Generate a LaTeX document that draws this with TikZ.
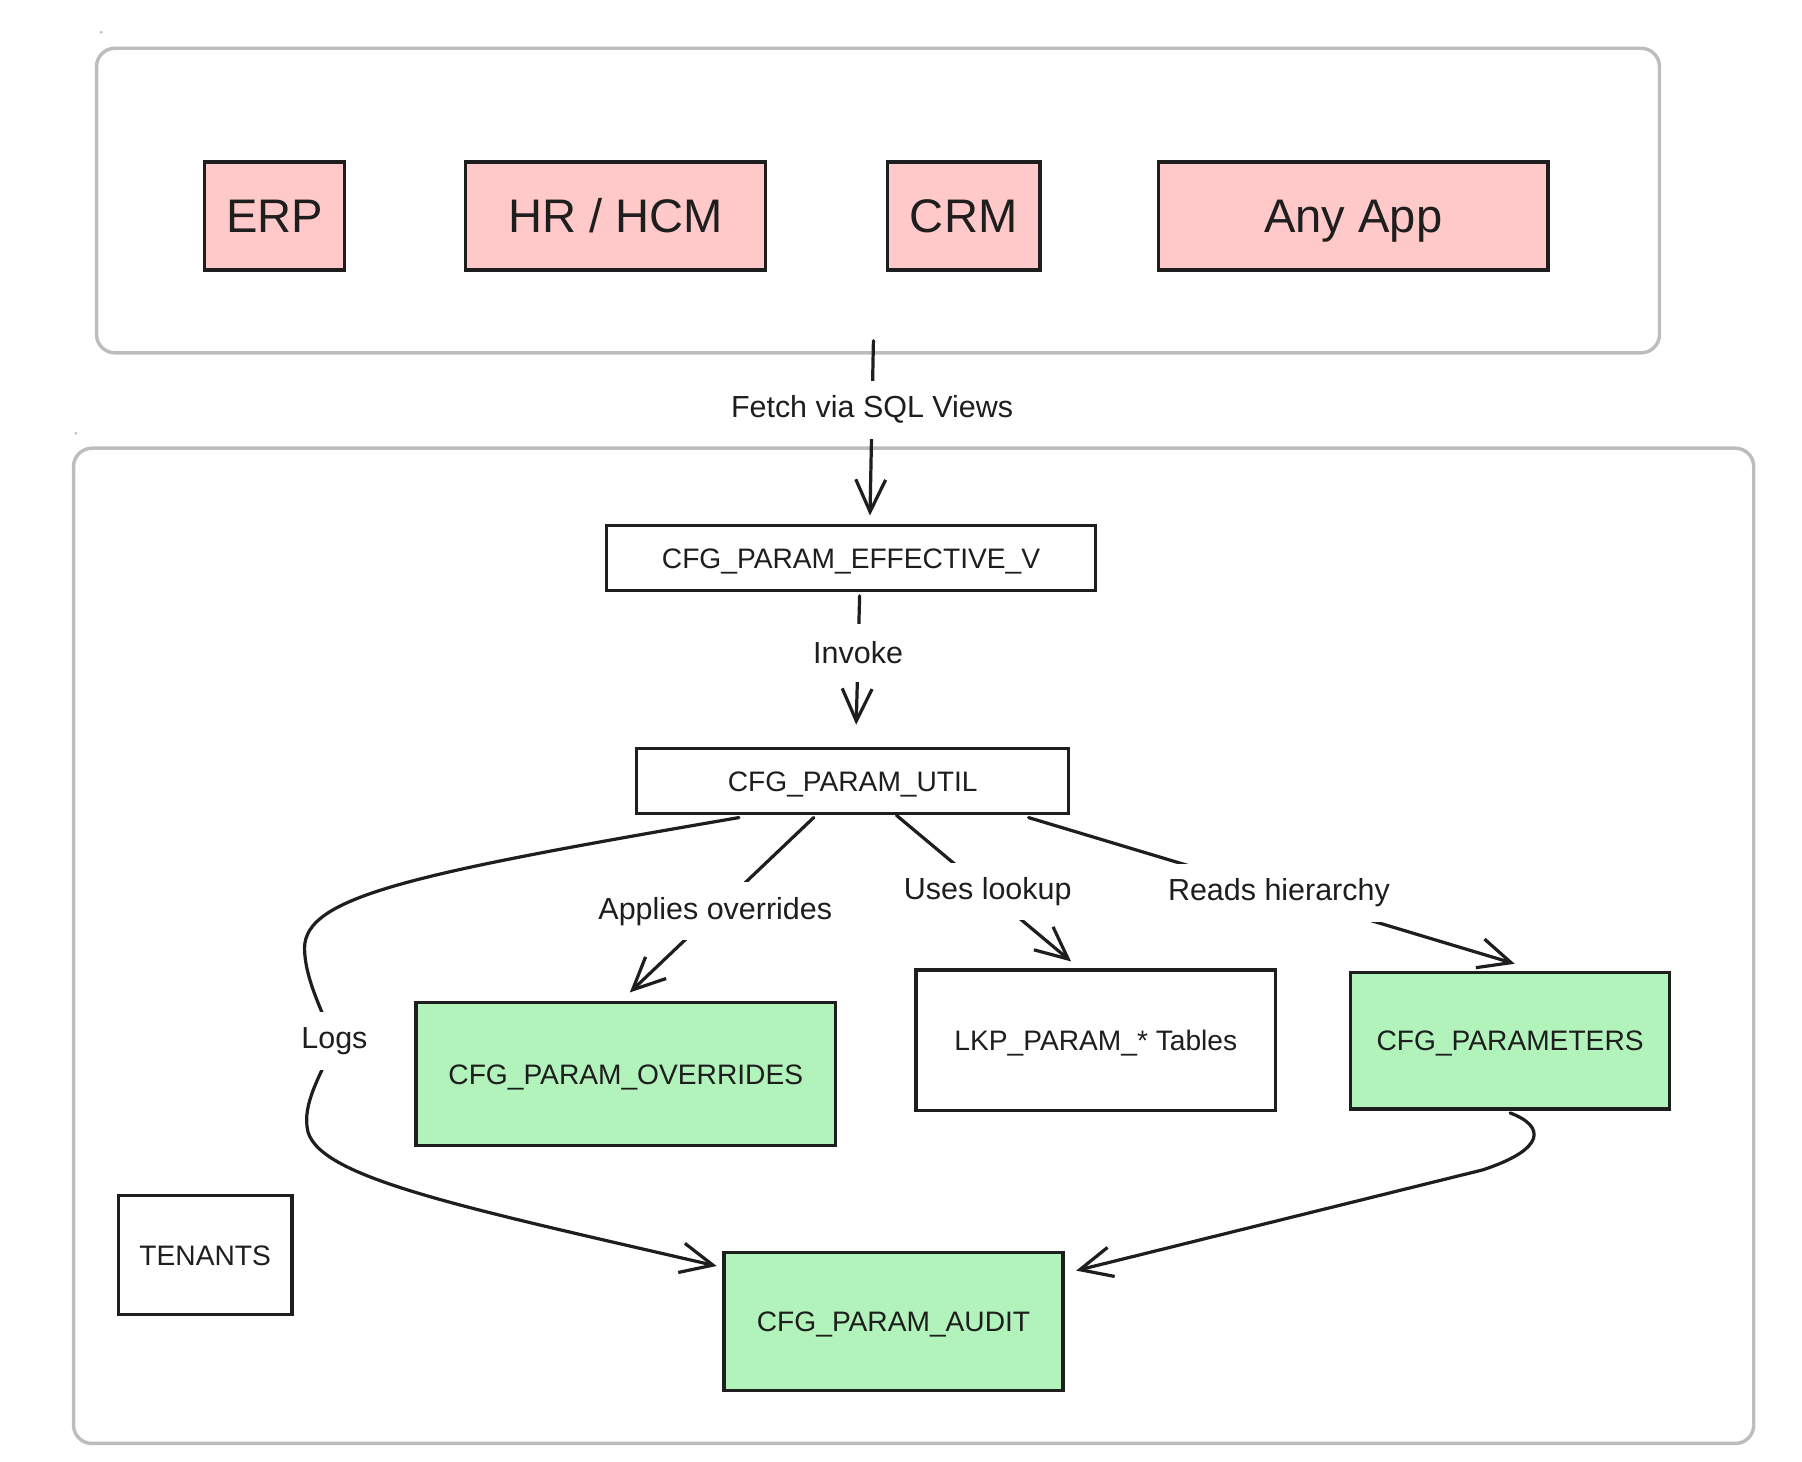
\documentclass[tikz,border=0pt]{standalone}
\usepackage{fontspec}
\setmainfont{Liberation Sans}
\usetikzlibrary{arrows.meta,calc}
\definecolor{ink}{HTML}{1E1E1E}
\definecolor{pinkf}{HTML}{FFC9C9}
\definecolor{greenf}{HTML}{B2F2BB}
\definecolor{framec}{HTML}{BDBDBD}
\newcommand\bigf{\fontsize{41}{48}\selectfont}
\newcommand\bxf{\fontsize{24.5}{28}\selectfont}
\newcommand\lblf{\fontsize{26.5}{30}\selectfont}
\begin{document}
\begin{tikzpicture}[x=1pt,y=-1pt,
  container/.style={draw=framec, line width=3pt, rounded corners=16pt, inner sep=0pt},
  appbox/.style={draw=ink, fill=pinkf, line width=2.8pt, inner sep=0pt, font=\bigf, text=ink, text height=29.4pt, text depth=0pt},
  tbox/.style={draw=ink, fill=white, line width=2.8pt, inner sep=0pt, font=\bxf, text=ink, text height=17.6pt, text depth=0pt},
  gbox/.style={tbox, fill=greenf},
  conn/.style={draw=ink, line width=2.8pt, line cap=round, -{Straight Barb[length=28pt,width=26pt,line width=2.8pt]}},
  lbl/.style={fill=white, font=\lblf, text=ink, inner xsep=6pt, inner ysep=0pt, minimum height=50pt},
]
\useasboundingbox (0,0) rectangle (1568,1272);
\fill[framec] (88,28) circle (1.3pt);
\fill[framec] (66,377) circle (1.3pt);
\node[container, minimum width=1360pt, minimum height=265pt] (topc) at (764,174.5) {};
\node[container, minimum width=1462pt, minimum height=866pt] (botc) at (795,823) {};
\node[appbox, minimum width=122pt, minimum height=94pt] (erp) at (239,188) {ERP};
\node[appbox, minimum width=261pt, minimum height=94pt] (hr) at (535.5,188) {HR / HCM};
\node[appbox, minimum width=133pt, minimum height=94pt] (crm) at (838.5,188) {CRM};
\node[appbox, minimum width=339pt, minimum height=94pt] (any) at (1177.5,188) {Any App};
\node[tbox, minimum width=425pt, minimum height=57pt] (eff) at (740.5,485.5) {CFG\_PARAM\_EFFECTIVE\_V};
\node[tbox, minimum width=376pt, minimum height=57pt] (util) at (742,679.5) {CFG\_PARAM\_UTIL};
\node[gbox, minimum width=365pt, minimum height=125pt] (ovr) at (544.5,934.5) {CFG\_PARAM\_OVERRIDES};
\node[tbox, minimum width=313pt, minimum height=122pt] (lkp) at (953.5,905) {LKP\_PARAM\_* Tables};
\node[gbox, minimum width=278pt, minimum height=119pt] (params) at (1314,905.5) {CFG\_PARAMETERS};
\node[tbox, minimum width=151pt, minimum height=104pt] (ten) at (178.5,1092) {TENANTS};
\node[gbox, minimum width=295pt, minimum height=120pt] (audit) at (777.5,1150) {CFG\_PARAM\_AUDIT};

\draw[conn] ($(topc.south)+(-4,-12)$) -- node[lbl,pos=0.395]{Fetch via SQL Views} ($(eff.north)+(16.5,-7)$);
\draw[conn] ($(eff.south)+(7.5,3)$) -- node[lbl,pos=0.443]{Invoke} ($(util.north)+(3,-19)$);
\draw[conn] ($(util.south)+(-34,2)$) -- node[lbl,pos=0.535]{Applies overrides} ($(ovr.north)+(3.5,-7)$);
\draw[conn] ($(util.south)+(38,0)$) -- node[lbl,pos=0.523]{Uses lookup} ($(lkp.north)+(-21.5,-6)$);
\draw[conn] ($(util.south)+(153,2)$) -- node[lbl,pos=0.515]{Reads hierarchy} ($(params.north)+(4,-6)$);
\draw[conn] ($(util.south)+(-99,2)$) .. controls (360,760) and (265,780) .. (265,825) .. controls (265,850) and (280,880) .. (291,906) .. controls (280,935) and (262,960) .. (268,985) .. controls (280,1025) and (400,1050) .. ($(audit.north west)+(-5,13)$);
\node[lbl] (logs) at (291,906) {Logs};
\draw[conn] ($(params.south)+(0,2)$) .. controls (1345,980) and (1345,1000) .. (1290,1018) -- ($(audit.north east)+(10,17)$);
\end{tikzpicture}
\end{document}
